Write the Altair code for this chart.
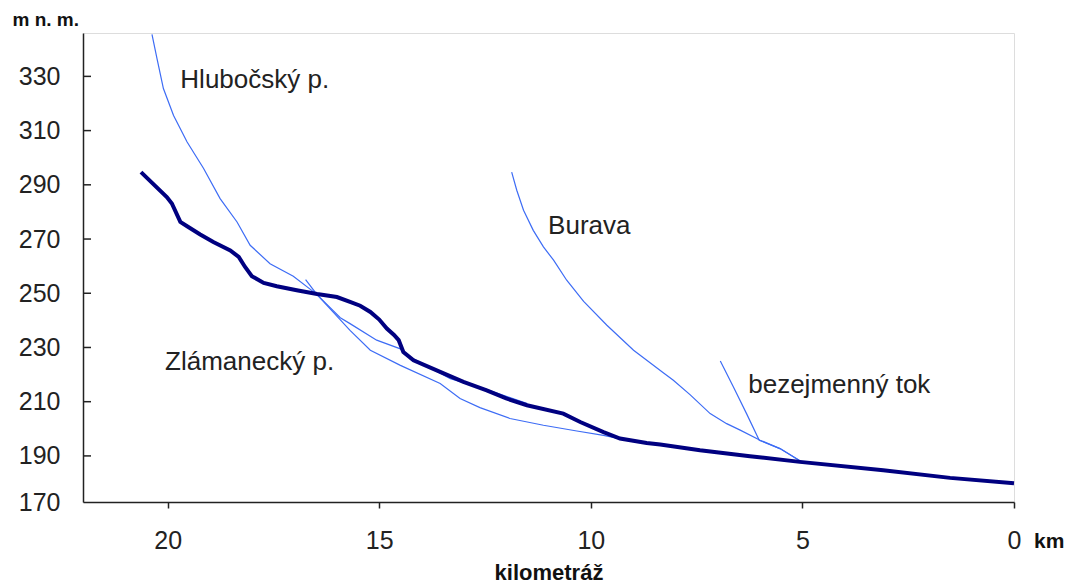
import altair as alt
import pandas as pd

# ---- data (km from mouth, m a.s.l.) ----
main_km = [20.63, 20.02, 19.90, 19.70, 19.54, 19.23, 18.92, 18.52, 18.32, 18.17, 18.01, 17.73, 17.42,
           16.95, 16.47, 16.00, 15.69, 15.45, 15.21, 15.00, 14.82, 14.65, 14.54, 14.43, 14.19, 13.56,
           13.01, 12.46, 12.00, 11.51, 10.65, 10.25, 9.70, 9.31, 8.68, 8.36, 7.42, 6.24, 5.06, 3.09,
           1.51, 0.00]
main_m = [294.7, 285.5, 283.1, 276.3, 274.7, 271.7, 268.9, 265.8, 263.4, 259.7, 256.3, 253.8, 252.6,
          251.1, 249.7, 248.6, 246.8, 245.4, 243.1, 240.3, 237.0, 234.6, 232.7, 228.3, 225.3, 221.0,
          217.3, 214.2, 211.2, 208.7, 205.6, 202.5, 198.8, 196.4, 194.8, 194.2, 192.1, 189.9, 187.8,
          184.7, 181.9, 179.9]

hlub_km = [20.37, 20.25, 20.10, 19.86, 19.54, 19.15, 18.76, 18.36, 18.05, 17.58, 17.03, 16.55, 16.47,
           15.92, 15.69, 15.06, 14.50, 14.27, 13.32, 12.54, 11.50]
hlub_m = [345.5, 336.5, 325.5, 315.6, 305.8, 296.0, 284.9, 276.3, 267.7, 260.9, 256.3, 250.5, 249.5,
          241.0, 238.8, 232.7, 229.5, 226.5, 218.5, 214.9, 209.3]

zlam_km = [16.74, 16.47, 15.69, 15.21, 14.50, 13.56, 13.09, 12.62, 11.91, 11.12, 10.33, 9.70, 9.15, 8.84]
zlam_m = [255.0, 249.5, 236.3, 229.0, 223.4, 216.7, 211.2, 207.8, 203.8, 201.3, 199.2, 197.6, 195.8, 195.0]

burava_km = [11.87, 11.75, 11.59, 11.36, 11.12, 10.88, 10.57, 10.17, 9.62, 8.99, 8.28, 8.05, 7.65,
             7.18, 6.79, 6.47, 6.00, 5.53, 5.06]
burava_m = [294.7, 288.0, 280.6, 273.2, 267.1, 262.2, 254.8, 247.0, 238.2, 229.0, 220.6, 217.9, 212.5,
            205.6, 201.9, 199.5, 195.8, 192.7, 188.2]

bez_km = [6.94, 6.63, 6.32, 6.02, 5.53, 5.06]
bez_m = [225.0, 215.4, 205.6, 195.8, 192.7, 188.2]

label_text = ["Hlubočský p.", "Burava", "Zlámanecký p.", "bezejmenný tok"]
label_km = [19.70, 11.01, 20.06, 6.28]
label_m = [328.5, 274.7, 224.5, 216.1]

x_ticks = [20, 15, 10, 5, 0]
y_ticks = [190, 210, 230, 250, 270, 290, 310, 330]
y_min, y_max = 173, 346

# ---- tables ----
def series(name, kms, ms):
    return pd.DataFrame({"tok": name, "km": kms, "m": ms, "i": range(len(kms))})

tribs = pd.concat([
    series("Hlubočský p.", hlub_km, hlub_m),
    series("Zlámanecký p.", zlam_km, zlam_m),
    series("Burava", burava_km, burava_m),
    series("bezejmenný tok", bez_km, bez_m),
])
main = series("hlavní tok", main_km, main_m)
labels = pd.DataFrame({"t": label_text, "km": label_km, "m": label_m})
yt = pd.DataFrame({"m": y_ticks})

FONT = "Liberation Sans"
xs = alt.Scale(domain=[0, 22], reverse=True, nice=False, zero=False)
ys = alt.Scale(domain=[y_min, y_max], nice=False, zero=False)

x_axis = alt.Axis(values=x_ticks, title="kilometráž", grid=False, tickSize=6, labelPadding=20,
                  labelFont=FONT, labelFontSize=25, labelColor="#222", labelFlush=False,
                  titleFont=FONT, titleFontSize=22, titleFontWeight="bold", titleColor="#111",
                  titleBaseline="alphabetic", titleY=77,
                  domainColor="#222", domainWidth=1.5, tickColor="#222", tickWidth=1.5)
y_axis = alt.Axis(values=[y_min] + y_ticks, title="m n. m.", grid=False, ticks=False, tickSize=0,
                  labelPadding=23, labelFont=FONT, labelFontSize=25, labelColor="#222",
                  labelExpr="datum.value < 180 ? '170' : datum.label", labelFlush=False,
                  titleFont=FONT, titleFontSize=19, titleFontWeight="bold", titleColor="#111",
                  titleAngle=0, titleAlign="left", titleBaseline="alphabetic", titleX=-71, titleY=-8,
                  domainColor="#222", domainWidth=1.5)

trib_layer = alt.Chart(tribs).mark_line(color="#3d6cf5", strokeWidth=1.2).encode(
    x=alt.X("km:Q", scale=xs, axis=x_axis),
    y=alt.Y("m:Q", scale=ys, axis=y_axis),
    detail="tok:N",
    order="i:Q",
)
main_layer = alt.Chart(main).mark_line(color="#000080", strokeWidth=4).encode(
    x=alt.X("km:Q", scale=xs),
    y=alt.Y("m:Q", scale=ys),
    order="i:Q",
)
tick_layer = alt.Chart(yt).mark_rule(color="#222", strokeWidth=1.5).encode(
    x=alt.value(0), x2=alt.value(8), y=alt.Y("m:Q", scale=ys),
)
text_layer = alt.Chart(labels).mark_text(align="left", baseline="middle", font=FONT,
                                          fontSize=26, color="#222").encode(
    x=alt.X("km:Q", scale=xs), y=alt.Y("m:Q", scale=ys), text="t:N",
)
km_layer = alt.Chart(pd.DataFrame({"t": ["km"]})).mark_text(
    align="left", baseline="alphabetic", font=FONT, fontSize=21, fontWeight="bold", color="#111"
).encode(x=alt.value(951), y=alt.value(515), text="t:N")

chart = alt.layer(trib_layer, main_layer, tick_layer, text_layer, km_layer).properties(
    width=931, height=469,
    autosize=alt.AutoSizeParams(type="none"),
    padding={"left": 75, "top": 25, "right": 60, "bottom": 82},
).configure_view(stroke=None).configure(background="white")

chart.save("out.html", embed_options={"renderer": "svg", "actions": False})
